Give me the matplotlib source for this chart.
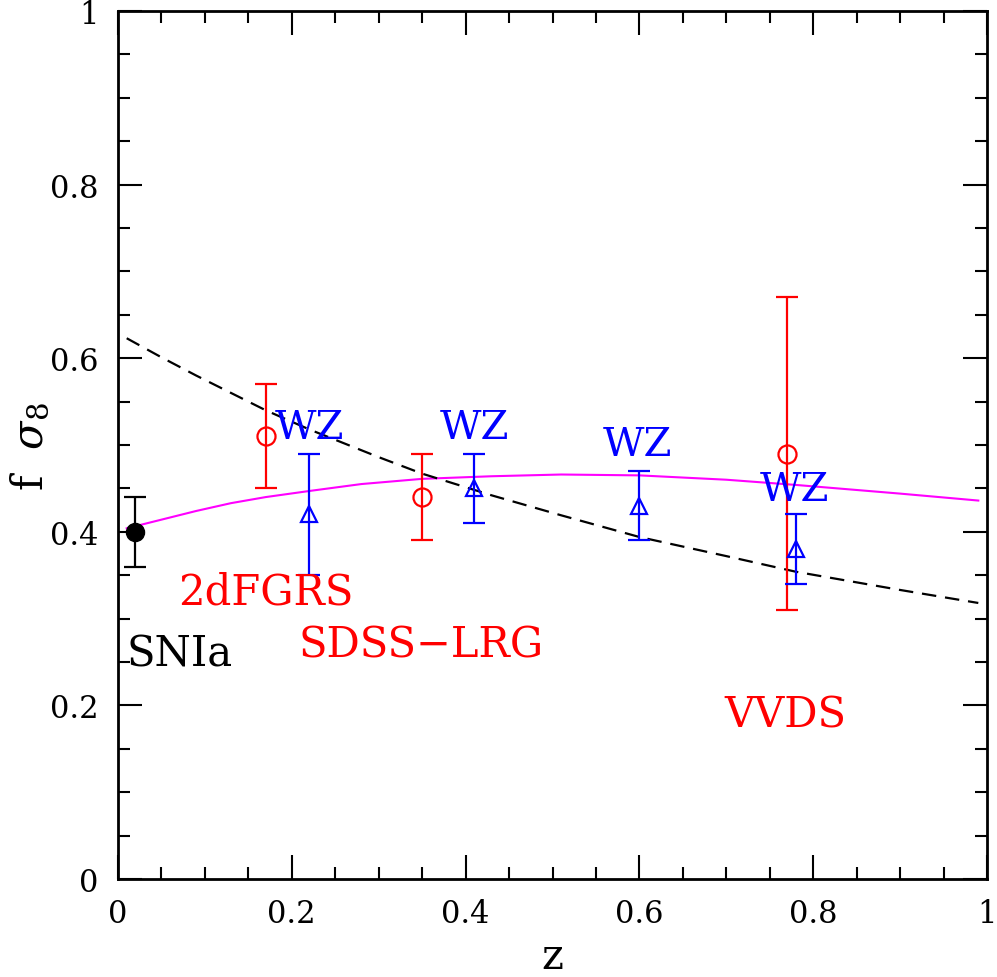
import matplotlib
matplotlib.use("Agg")
import matplotlib.pyplot as plt
from matplotlib.ticker import MultipleLocator

plt.rcParams['font.family'] = 'DejaVu Serif'
plt.rcParams['mathtext.fontset'] = 'dejavuserif'

# SNIa point
sn_z = [0.02]
sn_f = [0.40]
sn_err = [0.04]

# galaxy surveys (2dFGRS, SDSS-LRG, VVDS)
survey_z = [0.17, 0.35, 0.77]
survey_f = [0.51, 0.44, 0.49]
survey_err = [0.06, 0.05, 0.18]

# WiggleZ
wz_z = [0.22, 0.41, 0.60, 0.78]
wz_f = [0.42, 0.45, 0.43, 0.38]
wz_err = [0.07, 0.04, 0.04, 0.04]

# magenta model curve
model_z = [0.01, 0.05, 0.09, 0.13, 0.17, 0.22, 0.28, 0.35, 0.43, 0.51,
           0.60, 0.70, 0.78, 0.90, 0.99]
model_f = [0.404, 0.414, 0.424, 0.433, 0.440, 0.447, 0.455, 0.461, 0.464, 0.466,
           0.465, 0.460, 0.454, 0.444, 0.436]

# dashed model curve
dash_z = [0.01, 0.05, 0.09, 0.13, 0.17, 0.22, 0.26, 0.30, 0.35, 0.43, 0.51,
          0.60, 0.70, 0.78, 0.90, 0.99]
dash_f = [0.623, 0.601, 0.580, 0.560, 0.540, 0.518, 0.502, 0.486, 0.467, 0.442,
          0.419, 0.394, 0.372, 0.354, 0.333, 0.318]

fig = plt.figure(figsize=(9.97, 9.78), dpi=100)
ax = fig.add_axes([118 / 997, 98 / 978, 869 / 997, 868 / 978])

ax.plot(model_z, model_f, color='#ff00ff', lw=1.5)
ax.plot(dash_z, dash_f, color='black', lw=1.6, dashes=(6.5, 4))

ax.errorbar(sn_z, sn_f, yerr=sn_err, fmt='o', color='black', ms=13,
            capsize=8, elinewidth=1.6, capthick=1.6)
ax.errorbar(survey_z, survey_f, yerr=survey_err, fmt='o', color='#ff0000',
            mfc='none', mec='#ff0000', mew=1.6, ms=13,
            capsize=8, elinewidth=1.6, capthick=1.6)
ax.errorbar(wz_z, wz_f, yerr=wz_err, fmt='^', color='#0000ff',
            mfc='none', mec='#0000ff', mew=1.6, ms=11,
            capsize=8, elinewidth=1.6, capthick=1.6)

# labels
for zz, ff in [(0.22, 0.52), (0.41, 0.52), (0.598, 0.50), (0.779, 0.449)]:
    ax.text(zz, ff, 'WZ', color='#0000ff', fontsize=29, ha='center', va='center')
ax.text(0.17, 0.331, '2dFGRS', color='#ff0000', fontsize=30, ha='center', va='center')
ax.text(0.349, 0.27, 'SDSS\u2212LRG', color='#ff0000', fontsize=30, ha='center', va='center')
ax.text(0.768, 0.189, 'VVDS', color='#ff0000', fontsize=30, ha='center', va='center')
ax.text(0.01, 0.26, 'SNIa', color='black', fontsize=30, ha='left', va='center')

ax.set_xlim(0, 1)
ax.set_ylim(0, 1)
ax.xaxis.set_minor_locator(MultipleLocator(0.05))
ax.yaxis.set_minor_locator(MultipleLocator(0.05))
ax.set_xticks([0, 0.2, 0.4, 0.6, 0.8, 1])
ax.set_xticklabels(['0', '0.2', '0.4', '0.6', '0.8', '1'])
ax.set_yticks([0, 0.2, 0.4, 0.6, 0.8, 1])
ax.set_yticklabels(['0', '0.2', '0.4', '0.6', '0.8', '1'])

ax.tick_params(which='both', direction='in', top=True, right=True, width=1.5)
ax.tick_params(which='major', length=17, labelsize=22, pad=14)
ax.tick_params(which='minor', length=8.5)
for s in ax.spines.values():
    s.set_linewidth(2)

ax.set_xlabel('z', fontsize=30, labelpad=4)
fig.text(30 / 997, 1 - 447 / 978, r'f  $\sigma_8$', fontsize=30, rotation=90,
         ha='center', va='center')

fig.savefig('out.png', dpi=100)
